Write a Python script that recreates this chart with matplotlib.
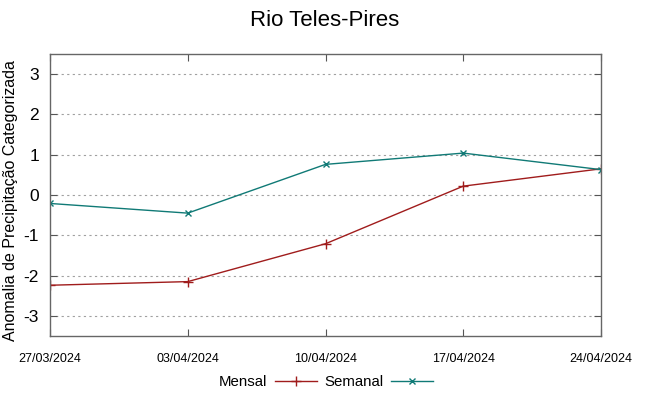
import numpy as np
import matplotlib
matplotlib.use("Agg")
import matplotlib.pyplot as plt

# dados
datas = ["27/03/2024", "03/04/2024", "10/04/2024", "17/04/2024", "24/04/2024"]
mensal = [-2.24, -2.15, -1.21, 0.22, 0.65]
semanal = [-0.21, -0.45, 0.76, 1.04, 0.63]
yticks = [-3, -2, -1, 0, 1, 2, 3]

plt.rcParams['font.family'] = ['Liberation Sans', 'DejaVu Sans']

fig = plt.figure(figsize=(6.49, 3.96), dpi=100)
ax = fig.add_axes([50/649, 1 - 336/396, 551/649, 282/396])

x = np.arange(len(datas))
ax.plot(x, mensal, color='#a01c1c', lw=1.0, marker='+', ms=7, mew=1.0, label='Mensal')
ax.plot(x, semanal, color='#107a76', lw=1.0, marker='x', ms=5, mew=1.0, label='Semanal')

ax.set_xlim(0, len(datas) - 1)
ax.set_ylim(-3.5, 3.5)
ax.set_xticks(x)
ax.set_xticklabels(datas, fontsize=9)
ax.set_yticks(yticks)
ax.set_yticklabels([str(v) for v in yticks], fontsize=12.5)
ax.yaxis.grid(True, ls=(0, (2, 3)), color='#a0a0a0', lw=0.8)
ax.tick_params(direction='in', top=True, right=True, length=5, color='#555555', pad=8)
ax.tick_params(axis='x', pad=12)
for s in ax.spines.values():
    s.set_color('#666666')
    s.set_linewidth(1.0)

ax.set_ylabel('Anomalia de Precipitação Categorizada', fontsize=11.5)
ax.yaxis.set_label_coords(-0.058, 0.48)
fig.suptitle('Rio Teles-Pires', fontsize=16, y=0.975)

fig.legend(loc='center', bbox_to_anchor=(0.502, 1 - 382/396), ncol=2,
           frameon=False, markerfirst=False, fontsize=10.8, handlelength=2.8,
           columnspacing=0.5, handletextpad=0.5)

fig.savefig('out.png', dpi=100)
